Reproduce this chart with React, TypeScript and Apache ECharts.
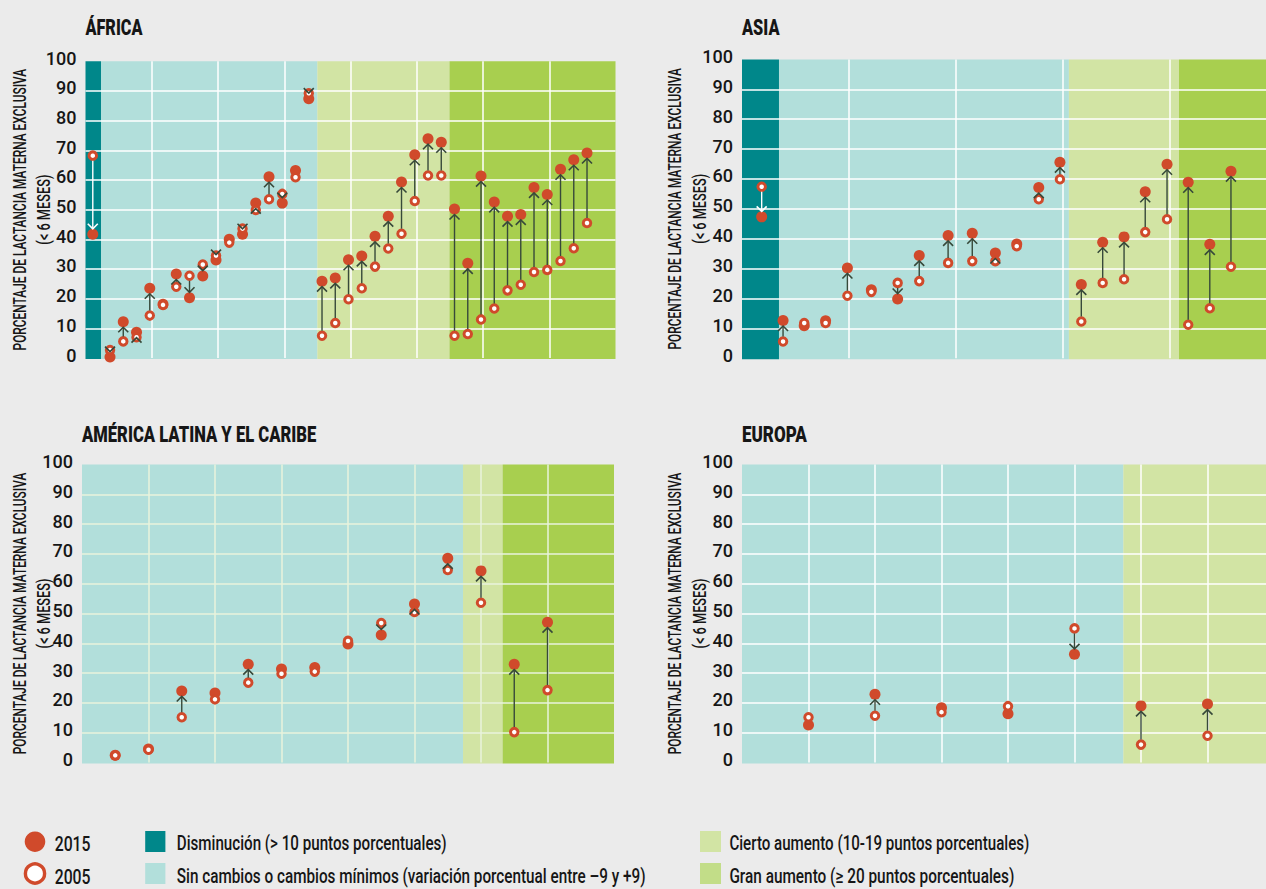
import React, { useEffect, useRef } from "react";
import * as echarts from "echarts";

const FONT = "Roboto, 'Liberation Sans', sans-serif";
const RED = "#d04a2b";
const TEXT = "#161616";
const BAND_COLORS = ["#00878a", "#b2dfdb", "#d2e4a4", "#a8cf4f"];

// ---- ÁFRICA ----
const africaX = [0.55, 1.85, 2.85, 3.85, 4.85, 5.85, 6.85, 7.85, 8.85, 9.85, 10.85, 11.85, 12.85, 13.85, 14.85, 15.85, 16.85,
  17.85, 18.85, 19.85, 20.85, 21.85, 22.85, 23.85, 24.85, 25.85, 26.85,
  27.85, 28.85, 29.85, 30.85, 31.85, 32.85, 33.85, 34.85, 35.85, 36.85, 37.85];
const africa2015 = [41.7, 0.3, 12.2, 8.7, 23.5, 18.1, 28.3, 20.3, 27.6, 33, 40, 41.7, 52.2, 61.1, 52.2, 63.2, 87.4,
  25.9, 27, 33.1, 34.4, 41, 47.8, 59.3, 68.5, 73.9, 72.7,
  50.2, 31.9, 61.3, 52.6, 47.8, 48.4, 57.5, 55.1, 63.6, 66.8, 69.1];
const africa2005 = [68.2, 2.7, 5.6, 7.0, 14.3, 17.9, 24, 27.7, 31.5, 34.5, 38.9, 43.6, 49.9, 53.5, 55.3, 60.9, 89.2,
  7.5, 11.8, 19.8, 23.5, 30.8, 36.9, 41.9, 52.9, 61.5, 61.5,
  7.5, 8.1, 13, 16.7, 22.8, 24.7, 29, 29.7, 32.7, 37, 45.5];
const africaNoArrow = [5, 10, 15];
const africaBands = [[0, 1.17, 0], [1.17, 17.5, 1], [17.5, 27.47, 2], [27.47, 40, 3]];

// ---- ASIA ----
const asiaX = [0.92, 1.92, 2.91, 3.91, 4.93, 6.05, 7.28, 8.29, 9.64, 10.77, 11.85, 12.85, 13.88, 14.87,
  15.87, 16.87, 17.87, 18.86, 19.88, 20.87, 21.88, 22.87];
const asia2015 = [47.3, 12.6, 10.9, 12.5, 30.2, 22.9, 19.8, 34.4, 41.1, 41.8, 35.2, 38.2, 57.1, 65.6,
  24.7, 38.8, 40.6, 55.7, 64.9, 58.9, 38.1, 62.6];
const asia2005 = [57.4, 5.6, 11.8, 11.8, 20.9, 22.2, 25.2, 25.8, 31.9, 32.5, 32.5, 37.5, 53.2, 59.9,
  12.3, 25.2, 26.4, 42.2, 46.5, 11.2, 16.7, 30.6];
const asiaNoArrow = [2, 3, 5, 11];
const asiaBands = [[0, 1.73, 0], [1.73, 15.29, 1], [15.29, 20.44, 2], [20.44, 25, 3]];

// ---- AMÉRICA LATINA Y EL CARIBE ----
const latamX = [1, 2, 3, 4, 5, 6, 7, 8, 9, 10, 11, 12, 13, 14];
const latam2015 = [2.4, 4.5, 24, 23.3, 33, 31.4, 31.9, 39.8, 42.8, 53.2, 68.5, 64.3, 33, 47.1];
const latam2005 = [2.4, 4.3, 15.2, 21.2, 26.8, 29.8, 30.5, 40.8, 46.8, 50.5, 64.6, 53.6, 10.2, 24.3];
const latamNoArrow = [0, 1, 3, 5, 6, 7];
const latamBands = [[0, 11.46, 1], [11.46, 12.65, 2], [12.65, 16, 3]];

// ---- EUROPA ----
const europeX = [2, 4, 6, 8, 10, 12, 14];
const europe2015 = [12.6, 22.9, 18.4, 16.4, 36.3, 19, 19.6];
const europe2005 = [15.2, 15.7, 16.9, 18.9, 45, 6, 9];
const europeNoArrow = [0, 2, 3];
const europeBands = [[0, 11.47, 1], [11.47, 16, 2]];

const Y_NAME_1 = "PORCENTAJE DE LACTANCIA MATERNA EXCLUSIVA";
const Y_NAME_2 = "(< 6 MESES)";

const LEGEND_YEARS = ["2015", "2005"];
const LEGEND_BANDS = [
  "Disminución (> 10 puntos porcentuales)",
  "Sin cambios o cambios mínimos (variación porcentual entre –9 y +9)",
  "Cierto aumento (10-19 puntos porcentuales)",
  "Gran aumento (≥ 20 puntos porcentuales)",
];

const panels = [
  { title: "ÁFRICA", titleW: 57, titleY: 28, nameX: [20, 44], xs: africaX, v15: africa2015, v05: africa2005, noArrow: africaNoArrow, bands: africaBands,
    left: 85.5, top: 61.3, width: 530, height: 296.7, xMax: 40, xInt: 5, line: "#ffffff" },
  { title: "ASIA", titleW: 37.5, titleY: 28, nameX: [675.5, 700], xs: asiaX, v15: asia2015, v05: asia2005, noArrow: asiaNoArrow, bands: asiaBands,
    left: 742, top: 59.4, width: 534.5, height: 298.8, xMax: 25, xInt: 5, line: "#ffffff" },
  { title: "AMÉRICA LATINA Y EL CARIBE", titleW: 234.5, titleY: 435, nameX: [20, 44], xs: latamX, v15: latam2015, v05: latam2005, noArrow: latamNoArrow, bands: latamBands,
    left: 82, top: 464.5, width: 532, height: 298, xMax: 16, xInt: 2, line: "#e9f3dc" },
  { title: "EUROPA", titleW: 65, titleY: 435, nameX: [675.5, 700], xs: europeX, v15: europe2015, v05: europe2005, noArrow: europeNoArrow, bands: europeBands,
    left: 742, top: 464.5, width: 532, height: 298, xMax: 16, xInt: 2, line: "#ffffff" },
];

let ctx: CanvasRenderingContext2D | null = null;
function measure(text: string, size: number, weight: string) {
  if (!ctx) ctx = document.createElement("canvas").getContext("2d");
  if (!ctx) return text.length * size * 0.55;
  ctx.font = `${weight} ${size}px ${FONT}`;
  return ctx.measureText(text).width;
}

function fitText(text: string, x: number, y: number, target: number, size: number, weight: string, extra: any = {}) {
  const w = measure(text, size, weight);
  return {
    type: "text", x, y, scaleX: target / w, ...extra,
    style: { text, fontFamily: FONT, fontSize: size, fontWeight: weight, fill: TEXT,
      align: extra.align || "left", verticalAlign: "middle" },
  };
}

function bandOf(bands: number[][], x: number) {
  for (const b of bands) if (x >= b[0] && x < b[1]) return b[2];
  return 1;
}

function buildOption() {
  const grid: any[] = [];
  const xAxis: any[] = [];
  const yAxis: any[] = [];
  const series: any[] = [];
  const graphic: any[] = [];

  panels.forEach((p, i) => {
    grid.push({ left: p.left, top: p.top, width: p.width, height: p.height, outerBoundsMode: "none", containLabel: false });
    graphic.push(fitText(p.title, p.left, p.titleY, p.titleW, 22, "900"));
    const cy = p.top + p.height / 2;
    graphic.push({ ...fitText(Y_NAME_1, p.nameX[0], cy, 282, 18, "500", { align: "center" }), rotation: Math.PI / 2 });
    graphic.push({ ...fitText(Y_NAME_2, p.nameX[1], cy, 70, 18, "500", { align: "center" }), rotation: Math.PI / 2 });

    xAxis.push({
      type: "value", gridIndex: i, min: 0, max: p.xMax, interval: p.xInt, z: 3,
      axisLine: { show: false }, axisTick: { show: false }, axisLabel: { show: false },
      splitLine: { show: true, showMinLine: false, showMaxLine: false, lineStyle: { color: p.line, width: 1.5 } },
    });
    yAxis.push({
      type: "value", gridIndex: i, min: 0, max: 100, interval: 10, z: 3,
      axisLine: { show: false }, axisTick: { show: false },
      axisLabel: {
        margin: 9, formatter: "{a|{value}}",
        rich: { a: { fontFamily: FONT, fontSize: 18, fontWeight: 500, color: TEXT, padding: [0, 0, 6, 0] } },
      },
      splitLine: { show: true, showMinLine: false, showMaxLine: false, lineStyle: { color: p.line, width: 1.5 } },
    });

    series.push({
      type: "custom", xAxisIndex: i, yAxisIndex: i, z: 1, silent: true,
      data: p.bands,
      encode: { x: [0, 1] },
      renderItem: (params: any, api: any) => {
        const a = api.coord([api.value(0), 100]);
        const b = api.coord([api.value(1), 0]);
        return {
          type: "rect",
          shape: { x: a[0], y: a[1], width: b[0] - a[0], height: b[1] - a[1] + 1 },
          style: { fill: BAND_COLORS[api.value(2)] },
        };
      },
    });

    series.push({
      type: "scatter", name: "2015", xAxisIndex: i, yAxisIndex: i, z: 4, silent: true,
      symbol: "circle", symbolSize: 11,
      itemStyle: { color: RED, opacity: 1 },
      data: p.xs.map((x, k) => [x, p.v15[k]]),
    });
    series.push({
      type: "scatter", name: "2005", xAxisIndex: i, yAxisIndex: i, z: 5, silent: true,
      symbol: "circle", symbolSize: 7.5,
      itemStyle: { color: "#ffffff", borderColor: RED, borderWidth: 3, opacity: 1 },
      data: p.xs.map((x, k) => [x, p.v05[k]]),
    });

    series.push({
      type: "custom", xAxisIndex: i, yAxisIndex: i, z: 6, silent: true,
      data: p.xs
        .map((x, k) => [x, p.v15[k], p.v05[k], bandOf(p.bands, x) === 0 ? 1 : 0, k])
        .filter((row) => p.noArrow.indexOf(row[4]) < 0),
      encode: { x: 0, y: 1 },
      renderItem: (params: any, api: any) => {
        const x = api.value(0), v15 = api.value(1), v05 = api.value(2), white = api.value(3);
        const p1 = api.coord([x, v15]);
        const p0 = api.coord([x, v05]);
        const d = p1[1] - p0[1] > 0 ? 1 : -1;
        const color = white ? "#ffffff" : "#37493a";
        const apexY = p1[1] - d * 5.5;
        const startY = p0[1] + d * 5;
        const children: any[] = [];
        if ((apexY - startY) * d > 0) {
          children.push({ type: "line", shape: { x1: p0[0], y1: startY, x2: p0[0], y2: apexY },
            style: { stroke: color, lineWidth: 1.4 } });
        }
        children.push({ type: "polyline",
          shape: { points: [[p1[0] - 5, apexY - d * 5], [p1[0], apexY], [p1[0] + 5, apexY - d * 5]] },
          style: { stroke: color, lineWidth: 1.6, fill: "none" } });
        return { type: "group", children };
      },
    });
  });

  graphic.push(
    { type: "circle", shape: { cx: 35, cy: 841.7, r: 10.3 }, style: { fill: RED } },
    { type: "circle", shape: { cx: 35, cy: 873.5, r: 9.6 }, style: { fill: "#ffffff", stroke: RED, lineWidth: 3.4 } },
    fitText(LEGEND_YEARS[0], 54.7, 844, 35.8, 21, "500"),
    fitText(LEGEND_YEARS[1], 54.7, 877, 35.8, 21, "500"),
    { type: "rect", shape: { x: 145.2, y: 831, width: 20.2, height: 21 }, style: { fill: BAND_COLORS[0] } },
    { type: "rect", shape: { x: 145.2, y: 863, width: 20.2, height: 21 }, style: { fill: BAND_COLORS[1] } },
    fitText(LEGEND_BANDS[0], 176.8, 843, 270, 20, "500"),
    fitText(LEGEND_BANDS[1], 176.8, 876, 469, 20, "500"),
    { type: "rect", shape: { x: 700, y: 831, width: 21, height: 21 }, style: { fill: BAND_COLORS[2] } },
    { type: "rect", shape: { x: 700, y: 863, width: 21, height: 21 }, style: { fill: "#c2dd88" } },
    fitText(LEGEND_BANDS[2], 729.4, 843, 300, 20, "500"),
    fitText(LEGEND_BANDS[3], 729.4, 876, 285, 20, "500"),
  );

  return {
    animation: false,
    backgroundColor: "#ebebeb",
    grid, xAxis, yAxis, series, graphic,
  };
}

export default function App() {
  const ref = useRef<HTMLDivElement>(null);
  useEffect(() => {
    if (!ref.current) return;
    const chart = echarts.init(ref.current, undefined, { renderer: "svg" });
    chart.setOption(buildOption() as any);
    return () => chart.dispose();
  }, []);
  return (
    <div
      ref={ref}
      style={{ position: "fixed", left: 0, top: 0, width: 1266, height: 889, background: "#ebebeb" }}
    />
  );
}
